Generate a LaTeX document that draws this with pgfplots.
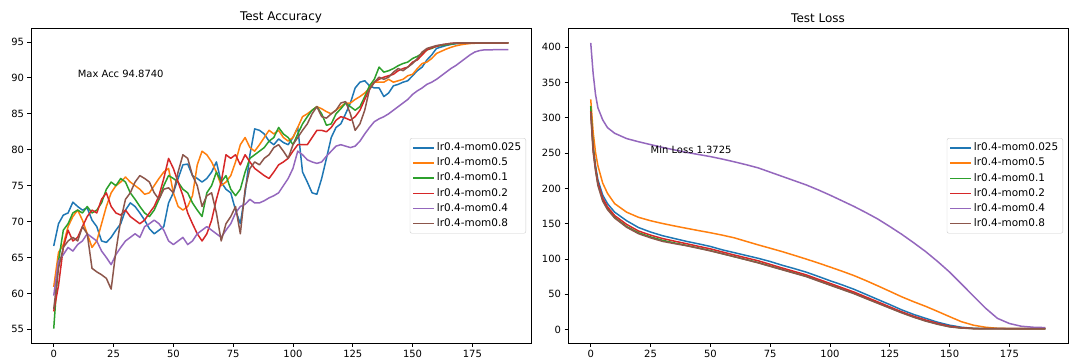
\documentclass[border=0pt]{standalone}
\usepackage{fontspec}
\setmainfont{DejaVu Sans}
\usepackage{pgfplots}
\usepackage{pgfplotstable}
\pgfplotsset{compat=1.18}

\definecolor{c0}{HTML}{1F77B4}
\definecolor{c1}{HTML}{FF7F0E}
\definecolor{c2}{HTML}{2CA02C}
\definecolor{c3}{HTML}{D62728}
\definecolor{c4}{HTML}{9467BD}
\definecolor{c5}{HTML}{8C564B}

% test accuracy, every 2 epochs
\pgfplotstableread{
e   c0    c1    c2    c3    c4    c5
0   66.6  60.9  55.1  57.5  59.7  57.8
2   69.7  65.7  64.5  61.1  64.5  63.5
4   70.9  66.8  68.8  66.4  65.4  66.4
6   71.2  69.3  69.7  68.8  66.4  67.3
8   72.7  70.7  71.2  67.3  65.9  67.8
10  72.1  71.6  71.6  67.8  66.8  67.3
12  71.6  70.2  71.2  69.3  67.3  69.3
14  71.9  68.3  72.1  70.7  68.3  68.3
16  70.2  66.4  71.2  71.6  67.8  63.5
18  69.3  67.3  71.6  71.2  67.3  63.0
20  67.3  69.7  72.6  73.1  65.9  62.6
22  67.1  72.1  74.5  74.0  65.0  62.1
24  67.8  74.0  75.5  72.1  64.0  60.6
26  68.8  75.0  75.0  71.2  65.4  65.9
28  69.7  75.5  76.0  70.9  66.4  70.2
30  71.6  76.2  75.5  71.6  67.3  73.1
32  72.6  75.5  74.0  70.7  67.8  74.0
34  72.1  75.0  73.1  70.2  68.3  75.5
36  71.2  74.5  72.1  69.7  67.8  76.4
38  70.2  73.8  71.2  70.2  69.3  76.0
40  69.0  74.0  70.7  71.2  69.7  75.5
42  68.3  75.0  71.6  72.1  70.2  74.0
44  68.8  76.0  73.1  73.6  69.7  73.1
46  69.3  76.9  75.0  76.0  68.8  74.5
48  72.6  77.4  76.4  78.8  67.3  74.7
50  74.0  74.0  76.0  77.4  66.8  74.0
52  76.0  72.1  75.5  75.5  67.3  76.9
54  77.9  71.6  74.5  73.6  67.8  79.3
56  78.0  72.1  74.0  71.2  66.8  78.8
58  76.4  73.6  72.6  69.7  67.3  76.4
60  76.0  77.9  71.6  68.3  68.3  75.0
62  75.5  79.8  70.7  67.3  68.8  72.1
64  76.0  79.3  74.0  68.3  69.3  73.6
66  76.9  78.3  75.0  70.2  68.8  74.0
68  78.3  76.9  76.9  73.1  68.3  71.2
70  75.5  75.0  75.5  75.5  67.8  67.3
72  74.5  75.5  76.4  79.3  68.8  69.7
74  74.0  76.4  74.5  78.8  69.7  70.7
76  71.6  78.3  73.6  79.3  71.2  72.1
78  69.7  80.7  74.5  77.9  72.1  68.3
80  74.0  81.7  76.9  79.3  72.4  74.5
82  79.3  80.3  78.8  78.3  73.1  77.4
84  82.9  79.8  79.3  77.4  72.6  78.3
86  82.7  80.7  79.8  76.9  72.6  77.9
88  82.2  81.7  80.3  76.4  72.9  78.8
90  81.2  82.7  81.2  76.0  73.3  79.3
92  80.7  82.2  81.7  76.9  73.6  80.3
94  81.5  82.7  83.1  77.9  74.0  80.7
96  81.0  81.7  82.2  78.3  75.0  79.8
98  80.7  81.2  81.7  78.8  76.0  78.8
100 81.7  81.7  80.7  79.8  77.4  80.7
102 83.1  83.1  82.2  80.7  79.8  81.7
104 76.9  84.6  83.6  80.7  79.3  82.7
106 75.5  85.0  84.6  80.7  78.6  83.6
108 74.0  85.5  85.5  81.7  78.3  85.0
110 73.8  86.0  86.0  82.7  78.1  86.0
112 76.0  85.7  85.0  82.7  78.3  84.6
114 78.8  85.3  83.4  82.5  79.1  84.4
116 81.7  85.0  83.6  83.1  79.8  85.0
118 83.1  85.5  85.0  84.1  80.5  85.5
120 83.6  86.0  85.7  84.6  80.7  86.5
122 85.0  86.5  86.5  84.4  80.5  86.7
124 86.5  86.5  86.0  84.1  80.3  85.0
126 88.6  87.0  85.5  84.6  80.5  82.7
128 89.4  87.4  86.0  85.5  81.2  83.6
130 89.6  87.9  87.4  87.0  82.2  85.5
132 88.9  88.6  88.9  88.4  83.1  88.4
134 88.6  89.4  89.8  89.4  83.9  89.4
136 88.6  89.4  91.5  89.8  84.3  90.1
138 87.4  89.4  90.8  90.1  84.6  89.8
140 87.9  89.8  91.0  90.3  85.0  90.1
142 88.9  89.4  91.3  90.5  85.5  90.8
144 89.1  89.6  91.7  91.0  86.0  91.3
146 89.4  89.8  92.0  91.3  86.5  91.0
148 89.6  90.3  92.2  91.5  87.0  91.5
150 90.3  90.5  92.7  92.2  87.7  92.0
152 91.0  91.3  93.0  92.5  88.2  92.7
154 91.5  92.0  93.4  93.2  88.6  93.6
156 92.5  92.2  93.9  93.9  89.1  94.1
158 93.2  92.7  94.1  94.2  89.4  94.3
160 94.1  93.4  94.4  94.4  89.8  94.5
162 94.3  93.7  94.5  94.6  90.3  94.6
164 94.5  94.0  94.6  94.7  90.8  94.7
166 94.65 94.25 94.7  94.8  91.3  94.8
168 94.75 94.45 94.8  94.85 91.7  94.85
170 94.8  94.6  94.85 94.87 92.2  94.87
172 94.83 94.7  94.87 94.87 92.7  94.87
174 94.85 94.78 94.87 94.87 93.2  94.87
176 94.87 94.82 94.87 94.87 93.6  94.87
178 94.87 94.85 94.87 94.87 93.8  94.87
180 94.87 94.86 94.87 94.87 93.9  94.87
182 94.87 94.86 94.87 94.87 93.9  94.87
184 94.87 94.86 94.87 94.87 93.92 94.87
186 94.87 94.86 94.87 94.87 93.92 94.87
188 94.87 94.86 94.87 94.87 93.93 94.87
190 94.87 94.86 94.87 94.87 93.93 94.87
}\acc

% test loss
\pgfplotstableread{
e   c0    c1    c2    c3    c4    c5
0   314   326   316.6 309   406   307
1   261   280   258   255   363   252
2   232   251   229   228   333   225
3   212   232   207   208   314   204
5   190.5 207.5 184   186   297   182
7   178.4 193   172   174   286   170
10  166.3 178.4 159   161.5 278   158
15  154.2 166.3 146   149   270.5 145
20  144.5 159   137.2 139.6 266   135.8
25  138.2 154.2 131.3 133.8 262   130
30  133   150.3 126.5 129   258   125
35  129   146.8 122.8 125.3 254.5 121.8
40  125   143.5 119.3 121.7 251   118.8
45  121.5 140.3 115.7 118   248   115.2
50  117.8 137.2 112   114.4 245   111.5
55  113   133.8 107.6 110   241.5 107.4
60  109   130   103.3 105.7 237.6 103.3
65  105   125   99.2  101.6 233.5 98.9
70  101   120   95    97.5  229   94.5
75  96.5  115.3 90.2  92.4  223   89.6
80  91.2  110.5 85.3  87.3  217   84.8
85  86.5  105.3 80.5  82.5  211   80
90  81.5  100   75.6  77.6  205   75.2
95  75.5  94.5  69.6  71.5  198   69.1
100 69.3  88.7  63.5  65.5  190.5 63
105 63.5  82.8  57.5  59.4  182.5 57
110 57.2  76.6  51.4  53.3  174.5 51
115 50    69.5  44.6  46.3  165.8 44.1
120 42.7  62    37.8  39.3  156.6 37.3
125 35.5  54.3  31    32.2  146   30.5
130 28    46.5  24.2  25.2  135   23.8
135 21.5  39.5  18    19    123   17.6
140 16    33    12.6  13.6  110.5 12.1
145 10.5  25.8  8     8.8   96.5  7.6
150 6.3   18.4  4.4   4.8   81.5  3.9
155 3.4   11.2  2.4   2.6   64.5  2.2
160 1.8   6.3   1.6   1.6   47.5  1.5
165 1.4   3.4   1.45  1.45  30.5  1.42
170 1.3   1.9   1.4   1.4   16    1.4
175 1.25  1.5   1.38  1.4   8.7   1.4
180 1.25  1.45  1.38  1.4   4.8   1.4
185 1.25  1.42  1.38  1.4   3.4   1.4
190 1.25  1.4   1.3725 1.4  2.9   1.4
}\loss

\pgfplotsset{
  panel/.style={
    scale only axis, width=500bp, height=314.4bp,
    xmin=-9.5, xmax=199.5,
    xtick={0,25,...,175},
    tick pos=left, tick align=outside,
    major tick length=3.5bp,
    tick style={black, line width=0.8bp},
    axis line style={line width=0.8bp},
    ticklabel style={font=\fontsize{10}{12}\selectfont},
    /pgf/number format/assume math mode=true,
    title style={font=\fontsize{12}{14}\selectfont, yshift=-4bp},
    every axis plot/.append style={line width=1.5bp, no markers, line join=round},
    legend style={at={(1,0.5)}, anchor=east, xshift=-5bp,
      draw=black!20, rounded corners=2bp, fill=white, fill opacity=0.8, text opacity=1,
      font=\fontsize{10.5}{12}\selectfont,
      nodes={inner sep=2bp, text height=8bp, text depth=2.5bp},
      cells={anchor=west},
      inner sep=2.5bp, row sep=0.6bp},
    legend image code/.code={\draw[##1, line width=1.5bp] (0bp,0bp) -- (21bp,0bp);},
  },
}

\begin{document}
\begin{tikzpicture}
\path[use as bounding box] (0,0) rectangle (1080bp,360bp);

\begin{axis}[panel, at={(31bp,17bp)}, anchor=south west,
  title={Test Accuracy},
  ymin=53.1, ymax=96.86, ytick={55,60,...,95}]
\addplot[c0] table[x=e,y=c0] {\acc};
\addplot[c1] table[x=e,y=c1] {\acc};
\addplot[c2] table[x=e,y=c2] {\acc};
\addplot[c3] table[x=e,y=c3] {\acc};
\addplot[c4] table[x=e,y=c4] {\acc};
\addplot[c5] table[x=e,y=c5] {\acc};
\legend{lr0.4-mom0.025,lr0.4-mom0.5,lr0.4-mom0.1,lr0.4-mom0.2,lr0.4-mom0.4,lr0.4-mom0.8}
\node[anchor=base west, font=\fontsize{10}{12}\selectfont, inner sep=0pt] at (axis cs:10,90) {Max Acc 94.8740};
\end{axis}

\begin{axis}[panel, at={(568bp,17bp)}, anchor=south west,
  title={Test Loss},
  ymin=-18.9, ymax=426.2, ytick={0,50,...,400}]
\addplot[c0] table[x=e,y=c0] {\loss};
\addplot[c1] table[x=e,y=c1] {\loss};
\addplot[c2] table[x=e,y=c2] {\loss};
\addplot[c3] table[x=e,y=c3] {\loss};
\addplot[c4] table[x=e,y=c4] {\loss};
\addplot[c5] table[x=e,y=c5] {\loss};
\legend{lr0.4-mom0.025,lr0.4-mom0.5,lr0.4-mom0.1,lr0.4-mom0.2,lr0.4-mom0.4,lr0.4-mom0.8}
\node[anchor=base west, font=\fontsize{10}{12}\selectfont, inner sep=0pt] at (axis cs:25,250) {Min Loss 1.3725};
\end{axis}
\end{tikzpicture}
\end{document}
